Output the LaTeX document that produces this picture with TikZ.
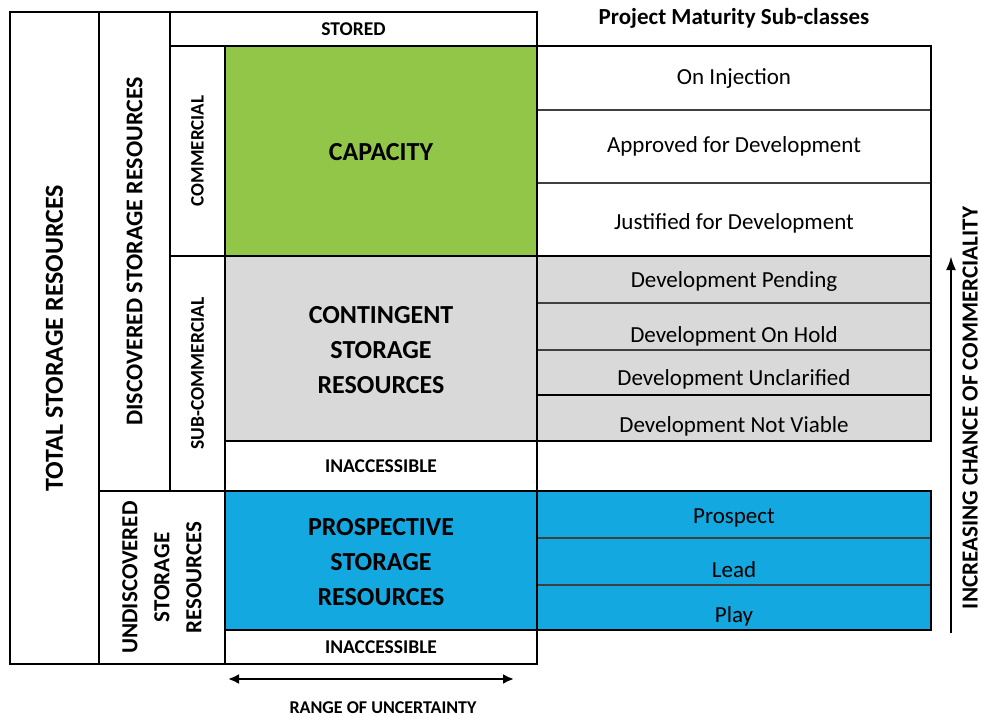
\documentclass[tikz,border=0pt]{standalone}
\usepackage{fontspec}
\setmainfont{Carlito}
\usetikzlibrary{positioning, arrows.meta}
\definecolor{capgreen}{RGB}{146,198,72}
\definecolor{contgray}{RGB}{217,217,217}
\definecolor{prosblue}{RGB}{20,168,224}

\begin{document}
\begin{tikzpicture}[x=1pt, y=-1pt,
        cell/.style={draw, line width=2.6pt, anchor=north west, inner sep=0pt, outer sep=0pt},
        subrow/.style={draw=black!75, line width=1.2pt, anchor=north west, inner sep=0pt, outer sep=0pt, minimum width=394pt},
        head/.style={font=\bfseries\fontsize{26}{35}\selectfont, align=center},
        small/.style={font=\bfseries\fontsize{19.5}{24}\selectfont, text height=12.6pt, text depth=0pt},
        vert/.style={rotate=90, font=\bfseries\fontsize{#1}{32}\selectfont, align=center},
        sub/.style={font=\fontsize{23}{28}\selectfont, text height=14.8pt, text depth=0pt}
    ]
    \useasboundingbox (0,0) rectangle (982,717);

    % Sub-class rows
    \foreach \nm/\yy/\hh/\fc in {inj/46/64/white, appr/110/73/white, just/183/73/white,
        pend/256/47/contgray, hold/303/47/contgray, uncl/350/45/contgray, nviab/395/46/contgray,
        prospect/491/47/prosblue, lead/538/47/prosblue, play/585/45/prosblue}
        \node[subrow, fill=\fc, minimum height=\hh pt] (\nm) at (537,\yy) {};

    \foreach \nm/\dy/\txt in {inj/1/On Injection, appr/1.5/Approved for Development,
        just/-2.5/Justified for Development, pend/-0.5/Development Pending,
        hold/-8.5/Development On Hold, uncl/-5.5/Development Unclarified,
        nviab/-7/Development Not Viable, prospect/-1.5/Prospect, lead/-8.5/Lead, play/-7.5/Play}
        \node[sub] at ([yshift=\dy pt]\nm.center) {\txt};

    % Group outlines
    \node[cell, minimum width=394pt, minimum height=210pt] (commgrp) at (537,46) {};
    \node[cell, minimum width=394pt, minimum height=185pt] (contgrp) at (537,256) {};
    \node[cell, minimum width=394pt, minimum height=139pt] (prosgrp) at (537,491) {};
    \draw[line width=2.6pt] (nviab.north west) -- (nviab.north east);

    % Left classification
    \node[cell, minimum width=89pt, minimum height=652pt] (total) at (10,12) {};
    \node[cell, minimum width=71pt, minimum height=479pt] (disc) at (99,12) {};
    \node[cell, minimum width=126pt, minimum height=173pt] (undisc) at (99,491) {};
    \node[cell, minimum width=367pt, minimum height=34pt] (stored) at (170,12) {};
    \node[cell, minimum width=55pt, minimum height=210pt] (comm) at (170,46) {};
    \node[cell, minimum width=55pt, minimum height=235pt] (subcomm) at (170,256) {};
    \node[cell, fill=capgreen, minimum width=312pt, minimum height=210pt] (capacity) at (225,46) {};
    \node[cell, fill=contgray, minimum width=312pt, minimum height=185pt] (conting) at (225,256) {};
    \node[cell, minimum width=312pt, minimum height=50pt] (inacc) at (225,441) {};
    \node[cell, fill=prosblue, minimum width=312pt, minimum height=139pt] (prosp) at (225,491) {};
    \node[cell, minimum width=312pt, minimum height=34pt] (inaccb) at (225,630) {};

    % Labels
    \node[vert=26] at (total.center) {TOTAL STORAGE RESOURCES};
    \node[vert=24] at (disc.center) {DISCOVERED STORAGE RESOURCES};
    \node[vert=23] at (undisc.center) {UNDISCOVERED\\STORAGE\\RESOURCES};
    \node[vert=19] at (comm.center) {COMMERCIAL};
    \node[vert=19.5] at (subcomm.center) {SUB-COMMERCIAL};
    \node[small] at (stored.center) {STORED};
    \node[head] at ([yshift=-1.5pt]capacity.center) {CAPACITY};
    \node[head] at ([yshift=-2pt]conting.center) {CONTINGENT\\STORAGE\\RESOURCES};
    \node[small] at (inacc.center) {INACCESSIBLE};
    \node[head] at ([yshift=-1.5pt]prosp.center) {PROSPECTIVE\\STORAGE\\RESOURCES};
    \node[small] at (inaccb.center) {INACCESSIBLE};
    \node[sub, font=\bfseries\fontsize{23}{28}\selectfont, above=18pt of commgrp.north] (title) {Project Maturity Sub-classes};

    % Arrows
    \coordinate (cbot) at (951,633);
    \coordinate (ctop) at (951,256);
    \draw[line width=2.6pt, -{Latex[length=14pt, width=10pt]}] (cbot) -- (ctop);
    \node[vert=23, inner sep=0pt, text depth=0pt] (chance) at (970,408) {INCREASING CHANCE OF COMMERCIALITY};

    \coordinate (rleft) at (228,679);
    \coordinate (rright) at (514,679);
    \draw[line width=2.4pt, {Latex[length=11pt, width=10pt]}-{Latex[length=11pt, width=10pt]}] (rleft) -- (rright);
    \node[small, font=\bfseries\fontsize{18}{22}\selectfont, text height=11.6pt, inner sep=0pt] (range) at (383,708) {RANGE OF UNCERTAINTY};

\end{tikzpicture}
\end{document}
